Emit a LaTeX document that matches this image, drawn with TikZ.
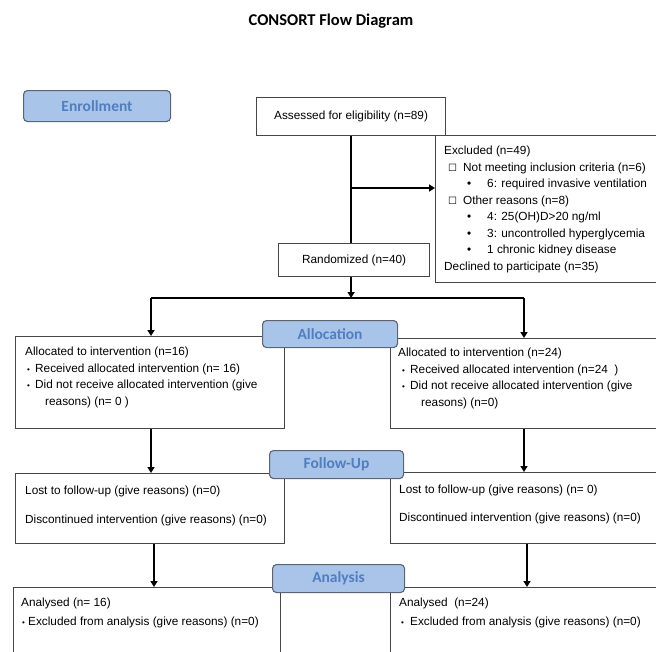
\documentclass[tikz,border=0pt]{standalone}
\usepackage{fontspec}
\setmainfont{Liberation Sans}
\newfontfamily\headfont{Carlito}
\newfontfamily\boxsym{DejaVu Sans}
\usepackage{tikz}
\usetikzlibrary{positioning}
\usetikzlibrary{arrows.meta}

\definecolor{stagefill}{RGB}{168,196,233}
\definecolor{stagetext}{RGB}{80,126,192}
\definecolor{stageline}{RGB}{90,100,115}
\definecolor{boxline}{RGB}{70,70,70}

\begin{document}
\begin{tikzpicture}[x=1pt,y=-1pt,>={Triangle[width=7pt,length=6pt]},
    outbox/.style={draw=boxline,line width=1.2pt,anchor=north west,inner sep=0pt},
    stagebox/.style={draw=stageline,fill=stagefill,line width=1.1pt,rounded corners=4pt,
      anchor=north west,inner sep=0pt,text=stagetext,font=\headfont\bfseries\fontsize{15.5}{18}\selectfont},
    boxtext/.style={inner sep=0pt,align=left,font=\fontsize{11.8}{16.5}\selectfont},
    flow/.style={line width=1.8pt}]
  \useasboundingbox (0,0) rectangle (656,651);
  \clip (0,0) rectangle (656,651);

  \node[font=\headfont\bfseries\fontsize{16.5}{19}\selectfont] (title) at (331,21) {CONSORT Flow Diagram};

  % enrollment
  \node[outbox,minimum width=189pt,minimum height=38pt,font=\fontsize{11.8}{14}\selectfont] (assess) at (256,97) {Assessed for eligibility (n=89)};
  \node[outbox,minimum width=151pt,minimum height=33pt,font=\fontsize{11.8}{14}\selectfont] (rand) at (278,243) {Randomized (n=40)};
  \node[outbox,minimum width=260pt,minimum height=147pt] (excl) at (435,135) {};
  \node[boxtext,below right=11pt and 9pt of excl.north west] (excltxt) {Excluded (n=49)\\
    \hspace*{4pt}\makebox[15pt][l]{\boxsym\fontsize{10}{10}\selectfont ☐}Not meeting inclusion criteria (n=6)\\
    \hspace*{23pt}\makebox[20pt][l]{•}6: required invasive ventilation\\
    \hspace*{4pt}\makebox[15pt][l]{\boxsym\fontsize{10}{10}\selectfont ☐}Other reasons (n=8)\\
    \hspace*{23pt}\makebox[20pt][l]{•}4: 25(OH)D>20 ng/ml\\
    \hspace*{23pt}\makebox[20pt][l]{•}3: uncontrolled hyperglycemia\\
    \hspace*{23pt}\makebox[20pt][l]{•}1 chronic kidney disease\\
    Declined to participate (n=35)};

  % allocation
  \node[outbox,minimum width=269pt,minimum height=92pt] (allocL) at (15,336) {};
  \node[outbox,minimum width=300pt,minimum height=90pt] (allocR) at (390,338) {};
  \node[boxtext,below right=11pt and 10pt of allocL.north west] (allocLtxt) {Allocated to intervention (n=16)\\
    \hspace*{2pt}\makebox[8pt][l]{\fontsize{8}{8}\selectfont•}Received allocated intervention (n= 16)\\
    \hspace*{2pt}\makebox[8pt][l]{\fontsize{8}{8}\selectfont•}Did not receive allocated intervention (give\\
    \hspace*{20pt}reasons) (n= 0 )};
  \node[boxtext,below right=10pt and 8pt of allocR.north west] (allocRtxt) {Allocated to intervention (n=24)\\
    \hspace*{4pt}\makebox[8pt][l]{\fontsize{8}{8}\selectfont•}Received allocated intervention (n=24\ \ )\\
    \hspace*{4pt}\makebox[8pt][l]{\fontsize{8}{8}\selectfont•}Did not receive allocated intervention (give\\
    \hspace*{23pt}reasons) (n=0)};

  % follow-up
  \node[outbox,minimum width=269pt,minimum height=70pt] (followL) at (15,473) {};
  \node[outbox,minimum width=300pt,minimum height=71pt] (followR) at (390,472) {};
  \node[boxtext,below right=13pt and 10pt of followL.north west] (followLtxt) {Lost to follow-up (give reasons) (n=0)\\[12pt]
    Discontinued intervention (give reasons) (n=0)};
  \node[boxtext,below right=13pt and 9pt of followR.north west] (followRtxt) {Lost to follow-up (give reasons) (n= 0)\\[11pt]
    Discontinued intervention (give reasons) (n=0)};

  % analysis
  \node[outbox,minimum width=267pt,minimum height=100pt] (analL) at (13,587) {};
  \node[outbox,minimum width=300pt,minimum height=100pt] (analR) at (390,587) {};
  \node[boxtext,below right=11pt and 8pt of analL.north west] (analLtxt) {Analysed (n= 16)\\[2pt]
    \hspace*{1pt}\makebox[6pt][l]{\fontsize{8}{8}\selectfont•}Excluded from analysis (give reasons) (n=0)};
  \node[boxtext,below right=11pt and 9pt of analR.north west] (analRtxt) {Analysed\ \ (n=24)\\[2pt]
    \hspace*{2pt}\makebox[9pt][l]{\fontsize{8}{8}\selectfont•}Excluded from analysis (give reasons) (n=0)};

  % connectors
  \coordinate (split) at (assess.south |- 0,188);
  \coordinate (fork) at (assess.south |- 0,298);
  \coordinate (forkL) at (151,298);
  \coordinate (forkR) at (524,298);
  \draw[flow] (assess.south) -- (assess.south |- rand.north);
  \draw[flow,->] (split) -- (split -| excl.west);
  \draw[flow,->] (rand.south -| fork) -- (fork);
  \draw[flow] (forkL) -- (forkR);
  \draw[flow,->] (forkL) -- (forkL |- allocL.north);
  \draw[flow,->] (forkR) -- (forkR |- allocR.north);
  \draw[flow,->] (allocL.south -| forkL) -- (followL.north -| forkL);
  \draw[flow,->] (allocR.south -| forkR) -- (followR.north -| forkR);
  \draw[flow,->] (followL.south -| 154,0) -- (analL.north -| 154,0);
  \draw[flow,->] (followR.south -| 527,0) -- (analR.north -| 527,0);

  % stage labels
  \node[stagebox,minimum width=147pt,minimum height=31pt] (enroll) at (23,90) {Enrollment};
  \node[stagebox,minimum width=135pt,minimum height=27pt] (alloc) at (262,320) {Allocation};
  \node[stagebox,minimum width=134pt,minimum height=28pt] (follow) at (269,450) {Follow-Up};
  \node[stagebox,minimum width=132pt,minimum height=28pt] (anal) at (272,564) {Analysis};
\end{tikzpicture}
\end{document}
